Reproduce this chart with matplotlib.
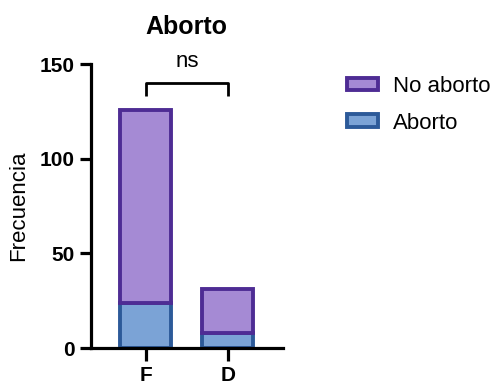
import numpy as np
import matplotlib.pyplot as plt
from matplotlib.patches import Patch

plt.rcParams['font.family'] = ['Liberation Sans', 'DejaVu Sans']

# Data
groups = ['F', 'D']
aborto = [24, 8]
no_aborto = [102, 23]
yticks = [0, 50, 100, 150]

purple_fill = '#A58AD4'
purple_edge = '#4E2C94'
blue_fill = '#7BA3D6'
blue_edge = '#2C5A99'

fig = plt.figure(figsize=(4.97, 3.89), dpi=100)
ax = fig.add_axes([0.183, 0.105, 0.386, 0.73])

x = np.arange(len(groups))
w = 0.62
ax.bar(x, aborto, width=w, color=blue_fill, edgecolor=blue_edge, linewidth=2.8)
ax.bar(x, no_aborto, width=w, bottom=aborto, color=purple_fill,
       edgecolor=purple_edge, linewidth=2.8)

ax.set_xlim(-0.67, 1.67)
ax.set_ylim(0, 150)
ax.set_xticks(x)
ax.set_xticklabels(groups, fontsize=15, fontweight='bold')
ax.set_yticks(yticks)
ax.set_yticklabels([str(v) for v in yticks], fontsize=15, fontweight='bold')
ax.set_ylabel('Frecuencia', fontsize=16, labelpad=8)
ax.set_title('Aborto', fontsize=18, fontweight='bold', pad=22)

for s in ['top', 'right']:
    ax.spines[s].set_visible(False)
for s in ['left', 'bottom']:
    ax.spines[s].set_linewidth(2.3)
ax.tick_params(axis='both', width=2.3, length=8)
ax.tick_params(axis='x', length=9)

# significance bracket
ax.plot([x[0], x[0], x[1], x[1]], [133, 140, 140, 133], color='black',
        lw=2, clip_on=False, solid_capstyle='butt')
ax.text((x[0] + x[1]) / 2, 146, 'ns', ha='center', va='bottom', fontsize=16)

handles = [Patch(facecolor=purple_fill, edgecolor=purple_edge, linewidth=2.8, label='No aborto'),
           Patch(facecolor=blue_fill, edgecolor=blue_edge, linewidth=2.8, label='Aborto')]
fig.legend(handles=handles, loc='upper left', bbox_to_anchor=(0.657, 0.856),
           frameon=False, fontsize=16, handlelength=1.4, handleheight=0.5,
           handletextpad=0.7, labelspacing=0.7)

fig.savefig('out.png', dpi=100)
